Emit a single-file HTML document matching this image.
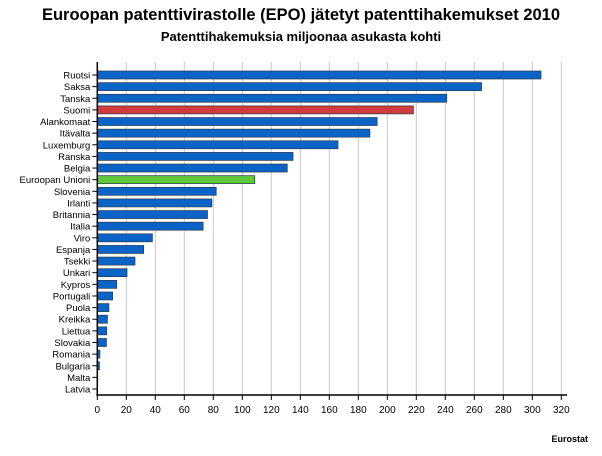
<!DOCTYPE html>
<html><head><meta charset="utf-8"><style>
body{margin:0;background:#fff;font-family:"Liberation Sans",sans-serif}
</style></head><body>
<svg id="c" width="602" height="451" xmlns="http://www.w3.org/2000/svg">
<text x="301" y="20" text-anchor="middle" font-size="16.5" font-weight="bold">Euroopan patenttivirastolle (EPO) jätetyt patenttihakemukset 2010</text>
<text x="301" y="41" text-anchor="middle" font-size="13" font-weight="bold">Patenttihakemuksia miljoonaa asukasta kohti</text>
<text x="588" y="442" text-anchor="end" font-size="9" font-weight="bold">Eurostat</text>
<g id="g"></g>
</svg>
<script>
const categories=["Ruotsi","Saksa","Tanska","Suomi","Alankomaat","Itävalta","Luxemburg","Ranska","Belgia","Euroopan Unioni","Slovenia","Irlanti","Britannia","Italia","Viro","Espanja","Tsekki","Unkari","Kypros","Portugali","Puola","Kreikka","Liettua","Slovakia","Romania","Bulgaria","Malta","Latvia"];
const values=[306,265,241,218,193,188,166,135,131,108.6,82,79,76,73,38,32,26,20.5,13.4,10.6,8,7,6.5,6.3,1.8,1.5,0.3,0.1];
const ticks=[0,20,40,60,80,100,120,140,160,180,200,220,240,260,280,300,320];
const NS="http://www.w3.org/2000/svg";
const g=document.getElementById('g');
const x0=97.3,xmax=320,plotW=464,yFirst=75,rowH=11.63,axisY=395;
const xs=v=>x0+v/xmax*plotW;
const ys=i=>yFirst+i*rowH;
function mk(t,a){const e=document.createElementNS(NS,t);for(const k in a)e.setAttribute(k,a[k]);g.appendChild(e);return e;}
ticks.forEach(t=>{
 if(t>0){const l=mk('line',{x1:xs(t),x2:xs(t),y1:62,y2:axisY,stroke:'#c8c8c8','stroke-width':1});
 
 }
 const tk=mk('line',{x1:xs(t),x2:xs(t),y1:axisY,y2:axisY+5,stroke:'#000'});
 
 
 const tx=mk('text',{x:xs(t),y:axisY+18,'text-anchor':'middle','font-size':10});
 tx.textContent=t;
 
 
});
categories.forEach((c,i)=>{
 const yc=ys(i);
 let fill='#0a64c8';
 if(c==='Suomi')fill='#d13b3b';
 if(c==='Euroopan Unioni')fill='#5ec73a';
 const r=mk('rect',{x:x0,y:yc-4,width:Math.max(0,xs(values[i])-x0),height:8,fill:fill,stroke:'#2a3a4a','stroke-width':0.7});
 
 
 const tk=mk('line',{x1:x0-5,x2:x0,y1:yc,y2:yc,stroke:'#000'});
 
 
 const t=mk('text',{x:x0-7,y:yc+3.5,'text-anchor':'end','font-size':9.5});
 t.textContent=c;
 
 
});
const ax=mk('line',{x1:x0,x2:x0,y1:62,y2:axisY,stroke:'#000','stroke-width':1.5});


const bx=mk('line',{x1:x0-1,x2:xs(324),y1:axisY,y2:axisY,stroke:'#000','stroke-width':1.5});


</script>
</body></html>
